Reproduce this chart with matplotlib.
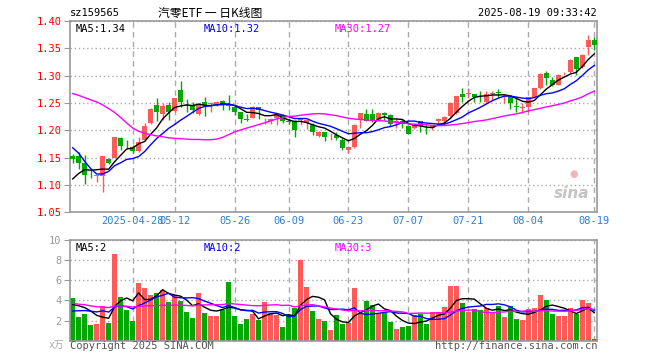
import numpy as np
import matplotlib
matplotlib.use("Agg")
import matplotlib.pyplot as plt

# daily bars, 2025-04-14 .. 2025-08-19 (88 sessions)
opens = [1.152, 1.152, 1.140, 1.115, 1.117, 1.117, 1.147, 1.150, 1.186, 1.177,
         1.170, 1.162, 1.182, 1.213, 1.246, 1.229, 1.246, 1.235, 1.273, 1.247,
         1.247, 1.229, 1.251, 1.248, 1.248, 1.254, 1.246, 1.243, 1.234, 1.220,
         1.223, 1.242, 1.213, 1.216, 1.222, 1.227, 1.216, 1.216, 1.219, 1.213,
         1.209, 1.190, 1.196, 1.191, 1.191, 1.182, 1.164, 1.170, 1.221, 1.229,
         1.229, 1.217, 1.231, 1.227, 1.213, 1.216, 1.208, 1.204, 1.216, 1.206,
         1.204, 1.216, 1.216, 1.226, 1.232, 1.267, 1.266, 1.266, 1.261, 1.252,
         1.267, 1.270, 1.261, 1.263, 1.244, 1.241, 1.243, 1.261, 1.278, 1.305,
         1.292, 1.283, 1.304, 1.306, 1.333, 1.315, 1.352, 1.365]
highs = [1.156, 1.160, 1.154, 1.128, 1.119, 1.153, 1.149, 1.188, 1.188, 1.182,
         1.173, 1.188, 1.213, 1.240, 1.258, 1.249, 1.252, 1.259, 1.290, 1.257,
         1.252, 1.250, 1.261, 1.251, 1.253, 1.256, 1.265, 1.246, 1.234, 1.229,
         1.245, 1.242, 1.222, 1.222, 1.231, 1.229, 1.222, 1.219, 1.222, 1.219,
         1.213, 1.199, 1.197, 1.195, 1.196, 1.185, 1.171, 1.211, 1.232, 1.239,
         1.239, 1.233, 1.233, 1.229, 1.222, 1.221, 1.210, 1.213, 1.217, 1.211,
         1.210, 1.222, 1.226, 1.251, 1.263, 1.277, 1.277, 1.267, 1.272, 1.272,
         1.271, 1.275, 1.264, 1.264, 1.260, 1.250, 1.261, 1.278, 1.304, 1.309,
         1.298, 1.303, 1.307, 1.331, 1.334, 1.339, 1.374, 1.371]
lows = [1.140, 1.130, 1.101, 1.113, 1.105, 1.088, 1.139, 1.149, 1.164, 1.168,
        1.159, 1.161, 1.180, 1.211, 1.216, 1.219, 1.219, 1.234, 1.243, 1.234,
        1.232, 1.227, 1.226, 1.234, 1.245, 1.237, 1.237, 1.228, 1.213, 1.217,
        1.222, 1.220, 1.211, 1.211, 1.209, 1.213, 1.211, 1.188, 1.210, 1.203,
        1.191, 1.187, 1.181, 1.182, 1.182, 1.164, 1.158, 1.168, 1.204, 1.216,
        1.215, 1.216, 1.219, 1.208, 1.204, 1.204, 1.193, 1.202, 1.197, 1.194,
        1.200, 1.214, 1.211, 1.225, 1.229, 1.252, 1.258, 1.252, 1.252, 1.250,
        1.255, 1.260, 1.250, 1.238, 1.234, 1.231, 1.234, 1.260, 1.276, 1.283,
        1.280, 1.282, 1.301, 1.304, 1.301, 1.313, 1.338, 1.347]
closes = [1.147, 1.141, 1.118, 1.114, 1.119, 1.153, 1.140, 1.187, 1.172, 1.176,
          1.162, 1.179, 1.208, 1.238, 1.234, 1.244, 1.234, 1.258, 1.251, 1.245,
          1.237, 1.248, 1.246, 1.249, 1.252, 1.246, 1.245, 1.234, 1.220, 1.219,
          1.243, 1.237, 1.214, 1.220, 1.229, 1.216, 1.215, 1.200, 1.221, 1.218,
          1.196, 1.197, 1.188, 1.192, 1.185, 1.168, 1.170, 1.210, 1.231, 1.217,
          1.217, 1.231, 1.227, 1.211, 1.217, 1.212, 1.194, 1.210, 1.207, 1.205,
          1.208, 1.221, 1.225, 1.249, 1.262, 1.261, 1.268, 1.260, 1.260, 1.266,
          1.268, 1.268, 1.262, 1.250, 1.243, 1.242, 1.260, 1.277, 1.302, 1.295,
          1.283, 1.301, 1.305, 1.329, 1.311, 1.337, 1.365, 1.356]
volumes = [4.27, 2.38, 2.68, 1.56, 1.69, 3.40, 1.79, 8.60, 4.37, 3.05,
           1.99, 5.73, 5.26, 4.54, 4.77, 5.03, 3.84, 4.50, 3.97, 2.85,
           2.25, 4.77, 2.80, 2.45, 2.45, 3.05, 5.83, 2.45, 1.62, 2.15,
           2.62, 2.02, 3.84, 2.72, 2.52, 1.32, 2.52, 3.22, 8.01, 5.33,
           2.92, 2.12, 1.92, 1.10, 2.55, 1.66, 1.79, 5.23, 2.70, 3.94,
           3.54, 2.80, 2.80, 1.89, 1.16, 1.39, 1.49, 2.60, 2.62, 1.66,
           2.85, 2.85, 3.38, 5.43, 5.43, 3.77, 2.85, 3.15, 3.05, 3.28,
           2.80, 3.48, 2.35, 3.41, 2.15, 2.05, 3.18, 3.28, 4.54, 4.04,
           2.65, 2.45, 2.45, 3.25, 2.68, 4.04, 3.74, 0.17]

# 29 sessions before the window, only used to start the moving averages
prev_closes = [1.24, 1.24, 1.24, 1.23, 1.32, 1.34, 1.40, 1.45, 1.47, 1.44,
               1.36, 1.32, 1.31, 1.30, 1.29, 1.30, 1.28, 1.27, 1.27, 1.26,
               1.241, 1.268, 1.244, 1.219, 1.153, 1.091, 1.083, 1.119, 1.115]
prev_volumes = [4.6, 4.2, 5.0, 4.4, 3.8, 4.0, 3.6, 4.3, 3.9, 4.1,
                3.7, 4.5, 4.0, 3.8, 4.2, 3.9, 4.1, 3.8, 4.0, 3.6,
                2.1, 2.5, 2.2, 2.4, 2.3, 3.0, 3.6, 3.2, 3.9]

tick_idx = [10, 17, 27, 36, 46, 56, 66, 76, 87]
tick_labels = ["2025-04-28", "05-12", "05-26", "06-09", "06-23",
               "07-07", "07-21", "08-04", "08-19"]
price_ticks = [1.05, 1.10, 1.15, 1.20, 1.25, 1.30, 1.35, 1.40]
vol_ticks = [2, 4, 6, 8, 10]

RED = "#FF5A5A"
GREEN = "#00A800"
GRID = "#AAAAAA"
MONO = "DejaVu Sans Mono"


def sma(values, prev, n):
    full = np.r_[prev[len(prev) - (n - 1):], values]
    return np.convolve(full, np.ones(n) / n, mode="valid")


o = np.array(opens)
h = np.array(highs)
l = np.array(lows)
c = np.array(closes)
v = np.array(volumes)
x = np.arange(len(c))
up = c >= o
colors = np.where(up, RED, GREEN)

fig = plt.figure(figsize=(6.6, 3.6), dpi=100)
ax = fig.add_axes([70 / 660, 1 - 212.3 / 360, 527 / 660, 191.5 / 360])
axv = fig.add_axes([70 / 660, 1 - 340.7 / 360, 527 / 660, 100.7 / 360])

for a in (ax, axv):
    a.set_xlim(-0.45, len(c) - 0.55)
    a.set_xticks(tick_idx)
    a.grid(axis="x", color=GRID, linestyle=(0, (4, 3)), linewidth=1)
    a.grid(axis="y", color=GRID, linestyle=(0, (1, 2)), linewidth=1)
    a.set_axisbelow(True)
    for s in a.spines.values():
        s.set_color("#999999")
        s.set_linewidth(1.2)
    a.tick_params(axis="x", length=0)
    a.tick_params(axis="y", length=4, color="#999999", pad=2)

# candles
ax.vlines(x, l, h, colors=colors, linewidth=1, zorder=2)
body = np.maximum(np.abs(c - o), 0.0008)
ax.bar(x, body, bottom=np.minimum(o, c), width=0.78, color=colors,
       linewidth=0, zorder=3)
ax.plot(x, sma(c, prev_closes, 5), color="black", lw=1, zorder=4)
ax.plot(x, sma(c, prev_closes, 10), color="#0000FF", lw=1, zorder=4)
ax.plot(x, sma(c, prev_closes, 30), color="#FF00FF", lw=1, zorder=4)
ax.set_ylim(1.05, 1.40)
ax.set_yticks(price_ticks)
ax.set_yticklabels([f"{t:.2f}" for t in price_ticks], color="red",
                   family=MONO, fontsize=7.5)
ax.set_xticklabels(tick_labels, color="#2A7FD4", family=MONO, fontsize=7.5)
ax.tick_params(axis="x", pad=3)

ax.text(0.01, 0.985, f"MA5:{sma(c, prev_closes, 5)[-1]:.2f}", transform=ax.transAxes,
        ha="left", va="top", family=MONO, fontsize=7.5, color="black")
ax.text(0.254, 0.985, f"MA10:{sma(c, prev_closes, 10)[-1]:.2f}", transform=ax.transAxes,
        ha="left", va="top", family=MONO, fontsize=7.5, color="#0000FF")
ax.text(0.503, 0.985, f"MA30:{sma(c, prev_closes, 30)[-1]:.2f}", transform=ax.transAxes,
        ha="left", va="top", family=MONO, fontsize=7.5, color="#FF00FF")

# sina watermark
ax.text(0.985, 0.06, "sina", transform=ax.transAxes, ha="right", va="bottom",
        fontsize=11, fontweight="bold", style="italic", color="#C4C4C4")
ax.text(0.955, 0.2, "●", transform=ax.transAxes, ha="center", va="center",
        fontsize=7, color="#F2B5B5")

# volume
axv.bar(x, v, width=0.8, color=colors, linewidth=0, zorder=2)
axv.plot(x, sma(v, prev_volumes, 5), color="black", lw=1, zorder=3)
axv.plot(x, sma(v, prev_volumes, 10), color="#0000FF", lw=1, zorder=3)
axv.plot(x, sma(v, prev_volumes, 30), color="#FF00FF", lw=1, zorder=3)
axv.set_ylim(0, 10)
axv.set_yticks(vol_ticks)
axv.set_yticklabels([str(t) for t in vol_ticks], color="#999999",
                    family=MONO, fontsize=7.5)
axv.set_xticklabels([])

axv.text(0.01, 0.975, "MA5:2", transform=axv.transAxes, ha="left", va="top",
         family=MONO, fontsize=7.5, color="black")
axv.text(0.254, 0.975, "MA10:2", transform=axv.transAxes, ha="left", va="top",
         family=MONO, fontsize=7.5, color="#0000FF")
axv.text(0.503, 0.975, "MA30:3", transform=axv.transAxes, ha="left", va="top",
         family=MONO, fontsize=7.5, color="#FF00FF")

# header / footer
fig.text(70 / 660, 1 - 13 / 360, "sz159565", ha="left", va="center",
         family=MONO, fontsize=7.5)
fig.text(210 / 660, 1 - 13 / 360, "汽零ETF 一 日K线图", ha="center", va="center",
         family=["Noto Sans CJK SC", "DejaVu Sans"], fontsize=8.5)
fig.text(597 / 660, 1 - 13 / 360, "2025-08-19 09:33:42", ha="right", va="center",
         family=MONO, fontsize=7.5)
fig.text(64 / 660, 1 - 345 / 360, "x万", ha="right", va="center",
         family=[MONO, "Noto Sans CJK SC"], fontsize=7, color="#AAAAAA")
fig.text(70 / 660, 1 - 346 / 360, "Copyright 2025 SINA.COM", ha="left", va="center",
         family=MONO, fontsize=7.5, color="#555555")
fig.text(597 / 660, 1 - 346 / 360, "http://finance.sina.com.cn", ha="right",
         va="center", family=MONO, fontsize=7.5, color="#555555")

fig.savefig("out.png", dpi=100)
